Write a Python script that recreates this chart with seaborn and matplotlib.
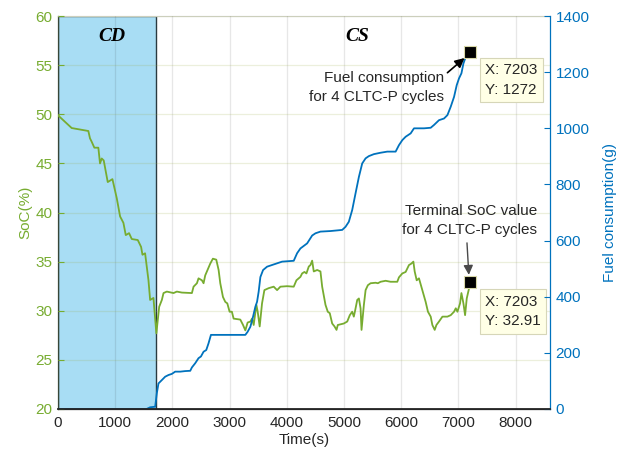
import matplotlib
matplotlib.use("Agg")
import matplotlib.pyplot as plt
import seaborn as sns
import pandas as pd

# State of charge trace (time in s, SoC in %)
soc_t = [0, 123, 240, 531, 560, 590, 636, 706, 735, 765, 800, 870, 952, 1028, 1086,
         1144, 1185, 1243, 1290, 1395, 1453, 1477, 1523, 1582, 1611, 1669, 1720,
         1769, 1816, 1845, 1903, 2020, 2078, 2166, 2341, 2370, 2429, 2457, 2516,
         2545, 2574, 2662, 2708, 2767, 2808, 2837, 2884, 2925, 2960, 3000, 3040,
         3070, 3187, 3235, 3275, 3315, 3363, 3392, 3421, 3468, 3491, 3526, 3567,
         3608, 3683, 3771, 3830, 3888, 4005, 4121, 4168, 4238, 4268, 4308, 4343,
         4384, 4413, 4443, 4471, 4531, 4588, 4618, 4676, 4716, 4751, 4793, 4834,
         4869, 4891, 4996, 5056, 5101, 5143, 5171, 5190, 5231, 5260, 5289, 5306,
         5347, 5377, 5417, 5464, 5552, 5592, 5639, 5727, 5814, 5931, 5960, 6019,
         6077, 6107, 6135, 6177, 6212, 6235, 6270, 6310, 6369, 6427, 6467, 6515,
         6544, 6585, 6615, 6660, 6720, 6807, 6865, 6923, 6953, 6982, 7028, 7052,
         7087, 7116, 7145, 7186, 7203]
soc_v = [49.9, 49.24, 48.6, 48.3, 47.55, 47.2, 46.6, 46.6, 45.0, 45.5, 45.3, 43.1,
         43.4, 41.45, 39.6, 38.95, 37.7, 37.9, 37.3, 37.2, 36.5, 35.7, 35.85, 33.1,
         31.1, 31.3, 27.7, 30.4, 31.1, 31.8, 31.95, 31.8, 31.95, 31.85, 31.8, 32.45,
         32.8, 33.3, 33.1, 32.8, 33.6, 34.8, 35.3, 35.2, 34.15, 32.8, 31.4, 30.9,
         30.75, 29.9, 29.9, 29.2, 29.1, 28.55, 28.0, 28.8, 28.9, 29.2, 28.55, 30.6,
         29.9, 28.4, 30.75, 32.1, 32.3, 32.45, 32.1, 32.45, 32.5, 32.45, 33.1,
         33.45, 33.8, 33.95, 33.8, 34.5, 34.65, 35.1, 34.0, 34.15, 34.0, 32.45,
         30.6, 29.9, 29.75, 28.7, 28.4, 28.05, 28.55, 28.7, 28.9, 29.55, 29.9,
         29.4, 29.9, 31.1, 31.25, 30.25, 28.05, 30.6, 32.1, 32.6, 32.8, 32.85,
         32.8, 32.95, 33.05, 32.95, 32.95, 33.4, 33.8, 33.95, 34.3, 34.65, 34.8,
         35.0, 34.0, 33.1, 33.3, 32.1, 30.9, 29.9, 29.4, 28.55, 28.05, 28.55, 28.9,
         29.4, 29.4, 29.55, 29.9, 30.25, 29.9, 30.75, 31.8, 30.75, 29.55, 31.25,
         32.3, 32.91]

# Cumulative fuel consumption trace (time in s, fuel in g)
fuel_t = [0, 1550, 1611, 1699, 1728, 1757, 1816, 1874, 1932, 1991, 2049, 2137,
          2224, 2312, 2341, 2399, 2457, 2499, 2545, 2592, 2632, 2674, 3275, 3315,
          3363, 3410, 3450, 3480, 3508, 3538, 3585, 3655, 3742, 3830, 3918, 4121,
          4180, 4238, 4355, 4443, 4501, 4588, 4764, 4968, 5026, 5084, 5143, 5201,
          5260, 5318, 5377, 5434, 5522, 5639, 5756, 5902, 5960, 6019, 6077, 6165,
          6223, 6398, 6515, 6573, 6660, 6748, 6807, 6865, 6923, 6970, 7010, 7052,
          7087, 7128, 7203]
fuel_v = [0, 0, 6, 8, 56, 91, 103, 115, 121, 125, 133, 133, 135, 136, 148, 163,
          181, 187, 204, 210, 234, 264, 264, 275, 293, 329, 364, 382, 418, 470,
          495, 507, 513, 519, 525, 528, 555, 572, 590, 618, 626, 632, 634, 638,
          649, 667, 709, 768, 827, 875, 893, 901, 908, 913, 917, 917, 940, 958,
          970, 982, 1000, 1000, 1002, 1012, 1029, 1035, 1047, 1077, 1112, 1154,
          1178, 1196, 1231, 1255, 1272]

cd_end = 1710
x_ticks = [0, 1000, 2000, 3000, 4000, 5000, 6000, 7000, 8000]
soc_ticks = [20, 25, 30, 35, 40, 45, 50, 55, 60]
fuel_ticks = [0, 200, 400, 600, 800, 1000, 1200, 1400]
tip_t, tip_soc, tip_fuel = 7203, 32.91, 1272

GREEN = "#77AC30"
BLUE = "#0072BD"
DARK = "#262626"

sns.set_style("white")
plt.rcParams["font.family"] = ["Liberation Sans", "DejaVu Sans"]

soc_df = pd.DataFrame({"t": soc_t, "soc": soc_v})
fuel_df = pd.DataFrame({"t": fuel_t, "fuel": fuel_v})

fig = plt.figure(figsize=(6.3, 4.59), dpi=100)
ax = fig.add_axes([0.092, 0.109, 0.781, 0.856])
ax2 = ax.twinx()

# Charge-depleting region
ax.axvspan(0, cd_end, facecolor="#A8DDF4", edgecolor="#2a3a40", linewidth=1.0, zorder=0.5)

sns.lineplot(data=soc_df, x="t", y="soc", ax=ax, color=GREEN, linewidth=1.3,
             estimator=None, sort=False, zorder=3)
sns.lineplot(data=fuel_df, x="t", y="fuel", ax=ax2, color=BLUE, linewidth=1.3,
             estimator=None, sort=False, zorder=2)

ax.set_xlim(0, 8600)
ax.set_ylim(20, 60)
ax2.set_ylim(0, 1400)
ax.set_xticks(x_ticks)
ax.set_yticks(soc_ticks)
ax2.set_yticks(fuel_ticks)

ax.grid(True, axis="x", color="#262626", alpha=0.11, linewidth=0.9)
ax.grid(True, axis="y", color="#9AAA40", alpha=0.18, linewidth=0.9)
ax.set_axisbelow(False)
for gl in ax.get_xgridlines() + ax.get_ygridlines():
    gl.set_zorder(1)

ax.set_xlabel("Time(s)", fontsize=11, color=DARK, labelpad=2)
ax.set_ylabel("SoC(%)", fontsize=11, color=GREEN, labelpad=2)
ax2.set_ylabel("Fuel consumption(g)", fontsize=11, color=BLUE, labelpad=10)

ax.tick_params(axis="x", direction="in", length=4, colors=DARK, labelsize=11, pad=5)
ax.tick_params(axis="y", direction="in", length=4, colors=GREEN, labelsize=11, pad=4)
ax2.tick_params(axis="y", direction="in", length=4, colors=BLUE, labelsize=11, pad=4)

ax.spines["left"].set_color("#3a4a3a")
ax.spines["bottom"].set_color(DARK)
ax.spines["top"].set_color("#d8d8d8")
ax.spines["right"].set_visible(False)
ax2.spines["right"].set_color(BLUE)
ax2.spines["left"].set_visible(False)
ax2.spines["top"].set_visible(False)
ax2.spines["bottom"].set_color(DARK)
for sp in list(ax.spines.values()) + list(ax2.spines.values()):
    sp.set_linewidth(0.9)
# bottom axis line drawn over the zero-level part of the fuel trace
ax2.spines["bottom"].set_linewidth(1.3)
ax2.spines["bottom"].set_zorder(3)

# Region labels
ax.text(950, 57.9, "CD", fontsize=14, fontweight="bold", fontstyle="italic",
        family="Liberation Serif", ha="center", va="center", color="black", zorder=5)
ax.text(5236, 57.9, "CS", fontsize=14, fontweight="bold", fontstyle="italic",
        family="Liberation Serif", ha="center", va="center", color="black", zorder=5)

# Data tip markers
ax2.plot([tip_t], [tip_fuel], marker="s", markersize=9, color="black",
         markeredgecolor="#d8d8a8", markeredgewidth=0.8, zorder=6)
ax.plot([tip_t], [tip_soc], marker="s", markersize=9, color="black",
        markeredgecolor="#d8d8a8", markeredgewidth=0.8, zorder=6)

tip_box = dict(boxstyle="square,pad=0.35", facecolor="#FFFFE6", edgecolor="#D6D6B8", linewidth=0.8)
ax2.annotate(f"X: {tip_t}\nY: {tip_fuel}", xy=(tip_t, tip_fuel), xytext=(11, -8),
             textcoords="offset points", ha="left", va="top", fontsize=11,
             linespacing=1.5, bbox=tip_box, zorder=7)
ax.annotate(f"X: {tip_t}\nY: {tip_soc}", xy=(tip_t, tip_soc), xytext=(11, -9),
            textcoords="offset points", ha="left", va="top", fontsize=11,
            linespacing=1.5, bbox=tip_box, zorder=7)

# Callouts
ax2.annotate("Fuel consumption\nfor 4 CLTC-P cycles", xy=(tip_t - 60, tip_fuel - 15),
             xytext=(6750, 1147), ha="right", va="center", fontsize=11,
             linespacing=1.45, zorder=7,
             arrowprops=dict(arrowstyle="-|>", color="black", lw=1.2,
                             shrinkA=0, shrinkB=2, mutation_scale=14,
                             relpos=(1.0, 0.85)))
ax.annotate("Terminal SoC value\nfor 4 CLTC-P cycles", xy=(tip_t - 20, tip_soc + 0.6),
            xytext=(8370, 39.2), ha="right", va="center", fontsize=11,
            linespacing=1.45, zorder=7,
            arrowprops=dict(arrowstyle="-|>", color="#4a4a4a", lw=1.0,
                            shrinkA=2, shrinkB=1, mutation_scale=14,
                            relpos=(0.48, 0.0)))

fig.savefig("out.png", dpi=100)
